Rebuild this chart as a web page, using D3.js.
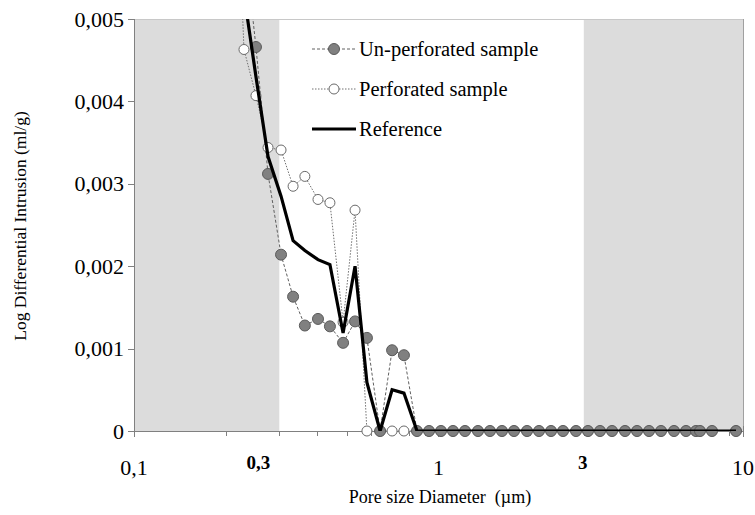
<!doctype html>
<html lang="en">
<head>
  <meta charset="utf-8">
  <title>Pore size distribution</title>
  <style>
    body { margin: 0; background: #fff; }
    text { font-family: "Liberation Serif", "Times New Roman", serif; fill: #000; white-space: pre; }
  </style>
</head>
<body>
<svg width="755" height="515" id="chart"></svg>

<script src="https://d3js.org/d3.v7.min.js"></script>
<script>
    // pore diameters (µm) shared by all series
    var diameters = [0.2083, 0.2297, 0.2515, 0.2755, 0.304, 0.333, 0.364, 0.402, 0.440, 0.486,
                     0.532, 0.582, 0.643, 0.704, 0.770, 0.850, 0.931, 1.019, 1.116, 1.222,
                     1.348, 1.476, 1.616, 1.770, 1.953, 2.138, 2.342, 2.564, 2.829, 3.097,
                     3.392, 3.714, 4.098, 4.487, 4.913, 5.380, 5.935, 6.499, 7.007, 7.224,
                     7.910, 9.484];

    var unperforated = [null, 0.0060, 0.00466, 0.00312, 0.00214, 0.00163, 0.00128, 0.00136, 0.00127, 0.00107,
                        0.00133, 0.00113, 0, 0.00098, 0.00092, 0, 0, 0, 0, 0,
                        0, 0, 0, 0, 0, 0, 0, 0, 0, 0,
                        0, 0, 0, 0, 0, 0, 0, 0, 0, 0,
                        0, 0];

    var perforated = [0.0085, 0.00463, 0.00407, 0.00344, 0.00341, 0.00297, 0.00309, 0.00281, 0.00277, 0.00132,
                      0.00268, 0, 0, 0, 0, 0, 0, 0, 0, 0,
                      0, 0, 0, 0, 0, 0, 0, 0, 0, 0,
                      0, 0, 0, 0, 0, 0, 0, 0, 0, 0,
                      0, 0];

    var reference = [null, 0.0053, 0.0043, 0.00333, 0.00285, 0.00231, 0.00219, 0.00208, 0.00202, 0.00119,
                     0.00200, 0.00059, 0, 0.00050, 0.00046, 0, 0, 0, 0, 0,
                     0, 0, 0, 0, 0, 0, 0, 0, 0, 0,
                     0, 0, 0, 0, 0, 0, 0, 0, 0, 0,
                     0, 0];

    var yTicks = [0, 0.001, 0.002, 0.003, 0.004, 0.005];
    var yTickLabels = ["0", "0,001", "0,002", "0,003", "0,004", "0,005"];
    var xMajor = [0.1, 1, 10];
    var xMajorLabels = ["0,1", "1", "10"];
    var xMinor = [0.2, 0.3, 0.4, 0.5, 0.6, 0.7, 0.8, 0.9, 2, 3, 4, 5, 6, 7, 8, 9];
    var xMarked = [0.3, 3];
    var xMarkedLabels = ["0,3", "3"];
    var xMarkedShift = [-21, -1];   // the bold labels sit as free text boxes
    var shaded = [[0.1, 0.3], [3, 10]];

    var pLeft = 134, pRight = 743, pTop = 19, pBottom = 431;

    var svg = d3.select("#chart");

    var x = d3.scaleLog().domain([0.1, 10]).range([pLeft, pRight]);
    var y = d3.scaleLinear().domain([0, 0.005]).range([pBottom, pTop]);

    svg.append("defs").append("clipPath").attr("id", "plot")
        .append("rect").attr("x", pLeft).attr("y", pTop)
        .attr("width", pRight - pLeft).attr("height", pBottom - pTop);

    // grey bands
    svg.selectAll("rect.band").data(shaded).enter().append("rect")
        .attr("class", "band")
        .attr("x", function(d) { return x(d[0]); })
        .attr("y", pTop)
        .attr("width", function(d) { return x(d[1]) - x(d[0]); })
        .attr("height", pBottom - pTop)
        .attr("fill", "#dcdcdc");

    // frame lines (top / right)
    svg.append("line").attr("x1", pLeft).attr("x2", pRight).attr("y1", pTop + 0.5).attr("y2", pTop + 0.5)
        .attr("stroke", "#c8c8c8").attr("stroke-width", 1);
    svg.append("line").attr("x1", pRight + 0.5).attr("x2", pRight + 0.5).attr("y1", pTop).attr("y2", pBottom)
        .attr("stroke", "#a0a0a0").attr("stroke-width", 1);

    // y axis
    svg.append("line").attr("x1", pLeft + 0.5).attr("x2", pLeft + 0.5).attr("y1", pTop).attr("y2", pBottom)
        .attr("stroke", "#808080");
    svg.selectAll("line.ytick").data(yTicks).enter().append("line")
        .attr("x1", pLeft - 6).attr("x2", pLeft)
        .attr("y1", function(d) { return Math.round(y(d)) + 0.5; })
        .attr("y2", function(d) { return Math.round(y(d)) + 0.5; })
        .attr("stroke", "#808080");
    svg.selectAll("text.ylab").data(yTicks).enter().append("text")
        .attr("x", pLeft - 10)
        .attr("y", function(d) { return y(d) + 7.5; })
        .attr("text-anchor", "end")
        .attr("font-size", "22px")
        .text(function(d, i) { return yTickLabels[i]; });

    // x axis
    svg.append("line").attr("x1", pLeft).attr("x2", pRight).attr("y1", pBottom + 0.5).attr("y2", pBottom + 0.5)
        .attr("stroke", "#808080");
    svg.selectAll("line.xmajor").data(xMajor).enter().append("line")
        .attr("x1", function(d) { return Math.round(x(d)) + 0.5; })
        .attr("x2", function(d) { return Math.round(x(d)) + 0.5; })
        .attr("y1", pBottom - 5).attr("y2", pBottom + 6)
        .attr("stroke", "#808080");
    svg.selectAll("line.xminor").data(xMinor).enter().append("line")
        .attr("x1", function(d) { return Math.round(x(d)) + 0.5; })
        .attr("x2", function(d) { return Math.round(x(d)) + 0.5; })
        .attr("y1", pBottom).attr("y2", pBottom + 5)
        .attr("stroke", "#808080");
    svg.selectAll("text.xlab").data(xMajor).enter().append("text")
        .attr("x", function(d) { return x(d); })
        .attr("y", pBottom + 44)
        .attr("text-anchor", "middle")
        .attr("font-size", "22px")
        .text(function(d, i) { return xMajorLabels[i]; });
    svg.selectAll("text.xbold").data(xMarked).enter().append("text")
        .attr("x", function(d, i) { return x(d) + xMarkedShift[i]; })
        .attr("y", pBottom + 38)
        .attr("text-anchor", "middle")
        .attr("font-size", "19px")
        .attr("font-weight", "bold")
        .text(function(d, i) { return xMarkedLabels[i]; });

    // axis titles
    svg.append("text").attr("x", 440).attr("y", 503)
        .attr("text-anchor", "middle").attr("font-size", "18px")
        .text("Pore size Diameter  (\u00b5m)");
    svg.append("text")
        .attr("transform", "translate(26,226) rotate(-90)")
        .attr("text-anchor", "middle").attr("font-size", "17.5px")
        .text("Log Differential Intrusion (ml/g)");

    // series
    function pts(vals) {
        return diameters.map(function(d, i) { return [d, vals[i]]; })
            .filter(function(p) { return p[1] !== null; });
    }
    var line = d3.line().x(function(p) { return x(p[0]); }).y(function(p) { return y(p[1]); });

    var plot = svg.append("g").attr("clip-path", "url(#plot)");
    var gMarks = svg.append("g");

    var perfPts = pts(perforated);
    plot.append("path").attr("d", line(perfPts))
        .attr("fill", "none").attr("stroke", "#707070").attr("stroke-width", 1)
        .attr("stroke-dasharray", "1.5,1.5");
    var unpPts = pts(unperforated);
    plot.append("path").attr("d", line(unpPts))
        .attr("fill", "none").attr("stroke", "#606060").attr("stroke-width", 1)
        .attr("stroke-dasharray", "3,2");

    gMarks.selectAll("circle.perf").data(perfPts.filter(function(p) { return p[1] <= 0.005; }))
        .enter().append("circle")
        .attr("cx", function(p) { return x(p[0]); })
        .attr("cy", function(p) { return y(p[1]); })
        .attr("r", 5)
        .attr("fill", "#fff").attr("stroke", "#6a6a6a").attr("stroke-width", 1);
    gMarks.selectAll("circle.unp").data(unpPts.filter(function(p) { return p[1] <= 0.005; }))
        .enter().append("circle")
        .attr("cx", function(p) { return x(p[0]); })
        .attr("cy", function(p) { return y(p[1]); })
        .attr("r", 5.5)
        .attr("fill", "#808080").attr("stroke", "#5a5a5a").attr("stroke-width", 1);

    var refPts = pts(reference);
    svg.append("g").attr("clip-path", "url(#plot)").append("path").attr("d", line(refPts))
        .attr("fill", "none").attr("stroke", "#000").attr("stroke-width", 3.2)
        .attr("stroke-linejoin", "miter");

    // legend
    var legend = svg.append("g");
    var rows = [
        {label: "Un-perforated sample", y: 49, dash: "3,2", color: "#606060", marker: "filled"},
        {label: "Perforated sample", y: 89, dash: "1.5,1.5", color: "#707070", marker: "open"},
        {label: "Reference", y: 129, dash: null, color: "#000", marker: null}
    ];
    rows.forEach(function(r) {
        legend.append("line").attr("x1", 312).attr("x2", 356).attr("y1", r.y).attr("y2", r.y)
            .attr("stroke", r.color).attr("stroke-width", r.marker ? 1 : 3.2)
            .attr("stroke-dasharray", r.dash);
        if (r.marker === "filled") {
            legend.append("circle").attr("cx", 334).attr("cy", r.y).attr("r", 5.5)
                .attr("fill", "#808080").attr("stroke", "#5a5a5a");
        } else if (r.marker === "open") {
            legend.append("circle").attr("cx", 334).attr("cy", r.y).attr("r", 5)
                .attr("fill", "#fff").attr("stroke", "#6a6a6a");
        }
        legend.append("text").attr("x", 359).attr("y", r.y + 7)
            .attr("font-size", "20.5px").text(r.label);
    });
</script>
</body>
</html>
